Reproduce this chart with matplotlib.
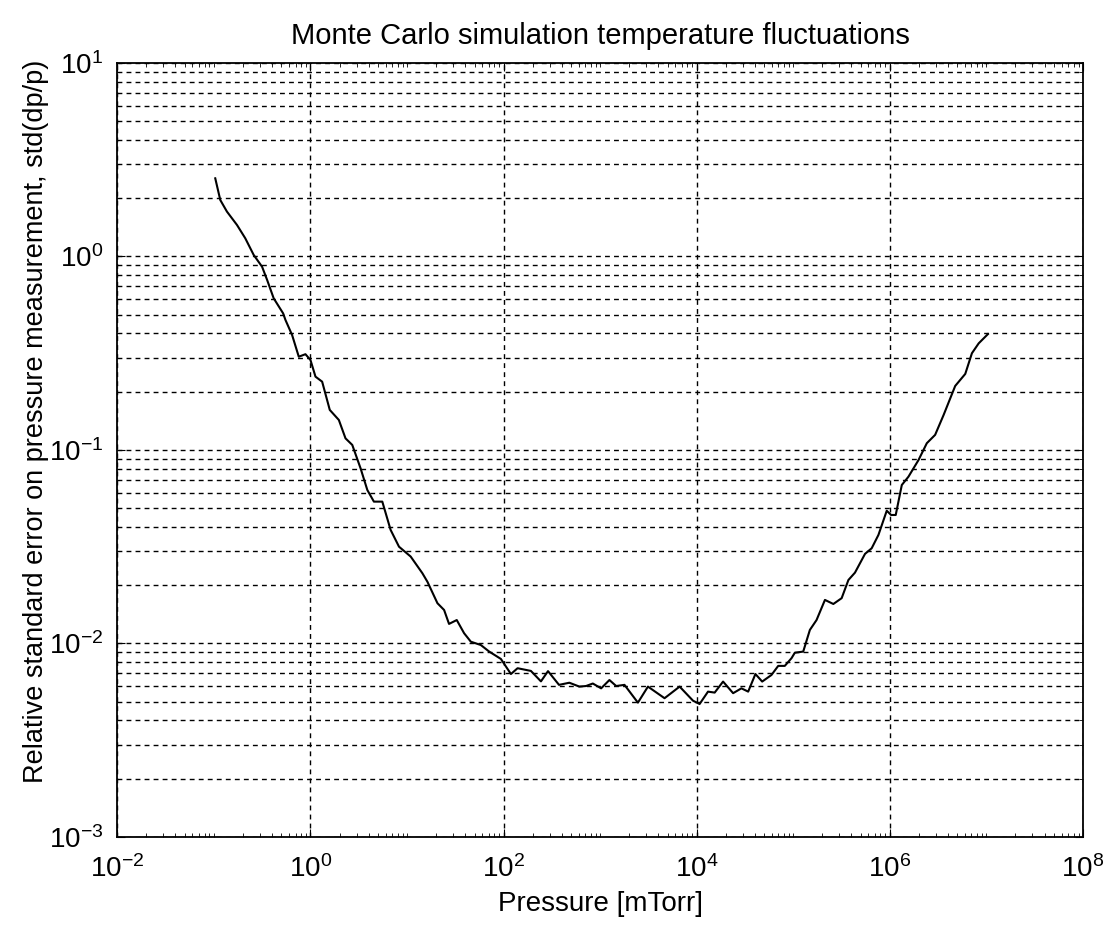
import matplotlib
matplotlib.use("Agg")
import matplotlib.pyplot as plt
from matplotlib.ticker import LogLocator, NullFormatter
import numpy as np

# log10 of pressure [mTorr] and of relative error
log_p = [-0.986, -0.934, -0.865, -0.761, -0.675, -0.588, -0.501, -0.449, -0.381, -0.283,
         -0.259, -0.190, -0.121, -0.052, 0.000, 0.052, 0.121, 0.200, 0.294, 0.363,
         0.433, 0.519, 0.589, 0.657, 0.744, 0.830, 0.917, 1.038, 1.159, 1.211,
         1.315, 1.384, 1.435, 1.515, 1.591, 1.661, 1.764, 1.851, 1.972, 2.076,
         2.145, 2.283, 2.387, 2.460, 2.574, 2.681, 2.785, 2.854, 2.924, 3.010,
         3.096, 3.166, 3.252, 3.391, 3.495, 3.667, 3.823, 3.962, 4.030, 4.117,
         4.186, 4.273, 4.377, 4.463, 4.533, 4.608, 4.678, 4.774, 4.844, 4.912,
         4.982, 5.016, 5.103, 5.172, 5.241, 5.328, 5.415, 5.501, 5.571, 5.639,
         5.743, 5.812, 5.882, 5.968, 6.013, 6.061, 6.124, 6.193, 6.297, 6.383,
         6.469, 6.557, 6.677, 6.781, 6.850, 6.920, 7.016]
log_err = [0.404, 0.292, 0.232, 0.163, 0.094, 0.008, -0.053, -0.121, -0.216, -0.294,
           -0.328, -0.406, -0.518, -0.505, -0.535, -0.621, -0.647, -0.793, -0.845, -0.940,
           -0.974, -1.095, -1.207, -1.267, -1.267, -1.413, -1.500, -1.551, -1.637, -1.681,
           -1.792, -1.827, -1.899, -1.879, -1.947, -1.991, -2.008, -2.042, -2.080, -2.158,
           -2.128, -2.142, -2.196, -2.143, -2.214, -2.203, -2.223, -2.220, -2.207, -2.232,
           -2.189, -2.220, -2.214, -2.306, -2.223, -2.283, -2.223, -2.296, -2.313, -2.249,
           -2.254, -2.197, -2.257, -2.232, -2.249, -2.158, -2.197, -2.163, -2.116, -2.116,
           -2.076, -2.048, -2.042, -1.930, -1.879, -1.775, -1.796, -1.766, -1.672, -1.634,
           -1.537, -1.508, -1.439, -1.314, -1.336, -1.336, -1.181, -1.138, -1.052, -0.965,
           -0.922, -0.819, -0.669, -0.607, -0.500, -0.449, -0.401]

x_ticks = [1e-2, 1e0, 1e2, 1e4, 1e6, 1e8]
y_ticks = [1e-3, 1e-2, 1e-1, 1e0, 1e1]

pressure = 10.0 ** np.array(log_p)
rel_err = 10.0 ** np.array(log_err)

plt.rcParams['font.family'] = ['Liberation Sans', 'DejaVu Sans']
plt.rcParams['mathtext.fontset'] = 'custom'
plt.rcParams['mathtext.rm'] = 'Liberation Sans'

fig = plt.figure(figsize=(11.08, 9.32), dpi=100)
ax = fig.add_axes([0.1059, 0.102, 0.8715, 0.8304])

ax.loglog(pressure, rel_err, color='black', linewidth=1.5)

ax.set_xlim(1e-2, 1e8)
ax.set_ylim(1e-3, 1e1)

ax.set_xticks(x_ticks)
ax.set_yticks(y_ticks)
ax.xaxis.set_minor_locator(LogLocator(base=10.0, subs=np.arange(1, 10), numticks=40))
ax.xaxis.set_minor_formatter(NullFormatter())
ax.yaxis.set_minor_locator(LogLocator(base=10.0, subs=np.arange(2, 10), numticks=40))
ax.yaxis.set_minor_formatter(NullFormatter())

# dashed grid: vertical at majors only, horizontal at majors and minors
grid_style = dict(color='black', linestyle=(0, (3.5, 3)), linewidth=1.0)
ax.xaxis.grid(True, which='major', **grid_style)
ax.yaxis.grid(True, which='both', **grid_style)

ax.tick_params(which='both', direction='in', top=True, right=True, labelsize=20)
ax.tick_params(which='minor', labelbottom=False, labelleft=False)
ax.tick_params(which='major', length=6)
ax.tick_params(which='minor', length=3)
ax.tick_params(axis='x', pad=13)
ax.tick_params(axis='y', pad=10)
for s in ax.spines.values():
    s.set_linewidth(1.3)

ax.set_title('Monte Carlo simulation temperature fluctuations', fontsize=21, pad=14)
ax.set_xlabel('Pressure [mTorr]', fontsize=20, labelpad=6)
ax.set_ylabel('Relative standard error on pressure measurement, std(dp/p)', fontsize=19.5)
ax.yaxis.set_label_coords(-0.071, 0.537)

fig.savefig('out.png', dpi=100)
